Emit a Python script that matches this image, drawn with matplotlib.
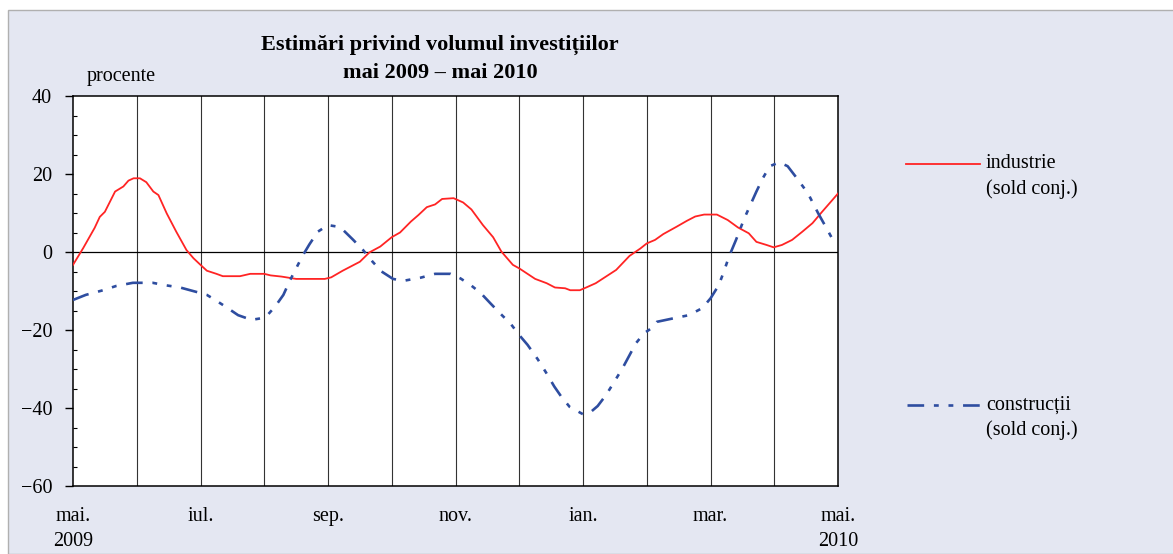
import matplotlib.pyplot as plt
import matplotlib as mpl
from matplotlib.lines import Line2D
from matplotlib.patches import Rectangle
from matplotlib.ticker import MultipleLocator

mpl.rcParams['font.family'] = ['Liberation Serif', 'DejaVu Serif']
mpl.rcParams['lines.scale_dashes'] = False

# months since mai 2009 (0 = mai 2009, 12 = mai 2010)
ind_m = [0.0, 0.16, 0.34, 0.42, 0.5, 0.66, 0.79, 0.87, 0.95, 1.05, 1.15, 1.26, 1.34,
         1.47, 1.62, 1.78, 1.89, 2.0, 2.1, 2.25, 2.35, 2.62, 2.78, 3.0, 3.1, 3.27, 3.5,
         3.95, 4.05, 4.23, 4.5, 4.65, 4.82, 5.0, 5.13, 5.3, 5.42, 5.55, 5.68, 5.79, 5.97,
         6.12, 6.25, 6.43, 6.59, 6.72, 6.9, 7.0, 7.25, 7.43, 7.56, 7.72, 7.8, 7.95, 8.05,
         8.2, 8.36, 8.52, 8.73, 8.9, 9.0, 9.13, 9.26, 9.47, 9.63, 9.76, 9.9, 10.1, 10.27,
         10.43, 10.6, 10.72, 10.88, 10.99, 11.12, 11.28, 11.44, 11.6, 11.75, 11.91, 12.0]
industrie = [-3.3, 1.0, 6.2, 9.0, 10.3, 15.5, 16.8, 18.3, 18.9, 18.9, 17.9, 15.5, 14.6,
             9.9, 5.2, 0.5, -1.6, -3.3, -4.8, -5.6, -6.2, -6.2, -5.6, -5.6, -6.0, -6.3, -6.9,
             -6.9, -6.5, -4.8, -2.5, -0.1, 1.4, 3.8, 5.0, 7.8, 9.5, 11.5, 12.2, 13.6, 13.8,
             12.7, 10.9, 6.9, 3.8, 0.1, -3.3, -4.2, -6.9, -8.0, -9.1, -9.3, -9.8, -9.8, -9.1,
             -8.0, -6.3, -4.6, -1.0, 0.9, 2.2, 3.1, 4.6, 6.5, 8.0, 9.1, 9.6, 9.6, 8.2,
             6.3, 4.8, 2.6, 1.8, 1.2, 1.8, 3.1, 5.2, 7.4, 10.3, 13.3, 15.0]

con_m = [0.0, 0.2, 0.45, 0.68, 0.94, 1.25, 1.44, 1.68, 1.95, 2.1, 2.23, 2.41, 2.59, 2.8,
         2.95, 3.06, 3.17, 3.3, 3.4, 3.5, 3.6, 3.71, 3.84, 4.0, 4.15, 4.24, 4.39, 4.55,
         4.7, 4.84, 5.02, 5.18, 5.45, 5.68, 5.92, 6.08, 6.24, 6.4, 6.55, 6.71, 6.87, 7.0,
         7.13, 7.29, 7.42, 7.55, 7.66, 7.79, 8.0, 8.13, 8.23, 8.36, 8.49, 8.62, 8.83, 8.96,
         9.07, 9.16, 9.42, 9.66, 9.87, 10.0, 10.13, 10.21, 10.29, 10.4, 10.53, 10.72, 10.82,
         10.93, 11.08, 11.21, 11.37, 11.53, 11.69, 11.82, 11.95]
constructii = [-12.3, -11.0, -9.9, -8.7, -7.9, -7.9, -8.5, -9.1, -10.3, -11.0, -12.3, -14.2,
               -16.2, -17.4, -17.0, -16.0, -14.0, -11.0, -7.4, -4.2, -1.0, 2.0, 5.2, 6.9, 6.5,
               5.6, 3.2, 0.5, -2.5, -5.0, -6.9, -7.4, -6.6, -5.6, -5.6, -6.8, -8.5, -10.6,
               -13.2, -15.9, -18.5, -21.3, -23.8, -27.5, -30.9, -34.5, -37.1, -39.7, -41.6,
               -40.9, -39.5, -36.7, -33.3, -29.8, -23.4, -20.8, -19.6, -17.9, -17.0, -16.2,
               -14.4, -11.9, -8.5, -5.0, -1.2, 3.1, 8.6, 15.5, 18.9, 22.0, 23.0, 22.0, 18.6,
               15.0, 9.9, 6.1, 2.2]

tick_pos = [0, 2, 4, 6, 8, 10, 12]
tick_labels = ['mai.\n2009', 'iul.', 'sep.', 'nov.', 'ian.', 'mar.', 'mai.\n2010']

RED = '#FF2424'
BLUE = '#2E4DA0'
BG = '#E4E7F2'
blue_dash = (0, (12, 7, 3.5, 7, 3.5, 7))
FS = 14.5

fig = plt.figure(figsize=(11.73, 5.54), dpi=100, facecolor='white')
fig.patches.append(Rectangle((8 / 1173, 0), 1.0, 544 / 554, transform=fig.transFigure,
                             facecolor=BG, edgecolor='#B0B0B0', linewidth=1.0, zorder=-10))

ax = fig.add_axes([73 / 1173, 68 / 554, 765 / 1173, 390 / 554])
ax.set_facecolor('white')

for m in range(1, 12):
    ax.axvline(m, color='#333333', lw=0.8, zorder=1)
ax.axhline(0, color='black', lw=0.9, zorder=1)

ax.plot(ind_m, industrie, color=RED, lw=1.3, zorder=3)
ax.plot(con_m, constructii, color=BLUE, lw=1.9, linestyle=blue_dash, zorder=3)

ax.set_xlim(0, 12)
ax.set_ylim(-60, 40)
ax.set_xticks(tick_pos)
ax.set_xticklabels(tick_labels, fontsize=FS, linespacing=1.45)
ax.tick_params(axis='x', length=0, pad=15)
ax.yaxis.set_minor_locator(MultipleLocator(5))
ax.set_yticks([-60, -40, -20, 0, 20, 40])
ax.set_yticklabels(['\u221260', '\u221240', '\u221220', '0', '20', '40'], fontsize=FS)
ax.tick_params(axis='y', which='major', direction='out', length=6, width=1, pad=9)
ax.tick_params(axis='y', which='minor', direction='in', length=3, width=0.8)
for s in ax.spines.values():
    s.set_linewidth(1.1)
    s.set_color('black')

fig.text(440 / 1173, 1 - 45 / 554, 'Estimări privind volumul investițiilor',
         ha='center', va='center', fontsize=16, fontweight='bold')
fig.text(440 / 1173, 1 - 73 / 554, 'mai 2009 \u2013 mai 2010',
         ha='center', va='center', fontsize=16, fontweight='bold')
fig.text(87 / 1173, 1 - 76 / 554, 'procente', ha='left', va='center', fontsize=FS)

# legend
fig.add_artist(Line2D([906 / 1173, 980 / 1173], [1 - 164 / 554] * 2, color=RED, lw=1.3,
                      transform=fig.transFigure))
fig.text(986 / 1173, 1 - 164 / 554, 'industrie', ha='left', va='center', fontsize=FS)
fig.text(986 / 1173, 1 - 189 / 554, '(sold conj.)', ha='left', va='center', fontsize=FS)
fig.add_artist(Line2D([907 / 1173, 980 / 1173], [1 - 405 / 554] * 2, color=BLUE, lw=1.9,
                      linestyle=blue_dash, transform=fig.transFigure))
fig.text(986 / 1173, 1 - 405 / 554, 'construcții', ha='left', va='center', fontsize=FS)
fig.text(986 / 1173, 1 - 430 / 554, '(sold conj.)', ha='left', va='center', fontsize=FS)

fig.savefig('out.png', dpi=100, facecolor='white')
